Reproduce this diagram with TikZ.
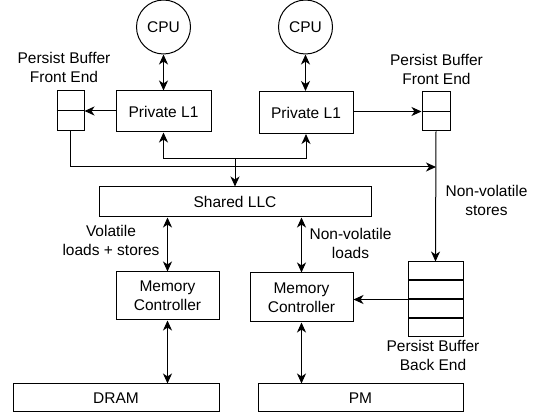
\documentclass[tikz,border=0pt]{standalone}
\usepackage{fontspec}
\setmainfont{Liberation Sans}
\usetikzlibrary{arrows.meta}
\begin{document}
\begin{tikzpicture}[x=1pt,y=-1pt,
  font=\fontsize{15.5}{19}\selectfont,
  line width=1pt,
  box/.style={draw,rectangle,inner sep=0pt,align=center},
  cpustyle/.style={draw,circle,inner sep=0pt,minimum size=54pt},
  lbl/.style={align=center,inner sep=0pt},
  arr/.style={-{Stealth[length=10pt,width=9pt,inset=3pt]}},
  darr/.style={{Stealth[length=10pt,width=9pt,inset=3pt]}-{Stealth[length=10pt,width=9pt,inset=3pt]}}]
\useasboundingbox (0,0) rectangle (539,414);
% CPUs
\node[cpustyle] (cpu1) at (163.5,27) {CPU};
\node[cpustyle] (cpu2) at (305.5,27) {CPU};
% Private L1
\node[box,minimum width=95pt,minimum height=41pt] (l1a) at (163.5,111.5) {Private L1};
\node[box,minimum width=94pt,minimum height=42pt] (l1b) at (306,112.5) {Private L1};
% Persist buffer front ends
\node[box,minimum width=27pt,minimum height=40pt] (pfl) at (70.5,111) {};
\draw (pfl.west) -- (pfl.east);
\node[box,minimum width=28pt,minimum height=39pt] (pfr) at (436,111.5) {};
\draw (pfr.west) -- (pfr.east);
\node[lbl] (pfllab) at (64,67) {Persist Buffer\\Front End};
\node[lbl] (pfrlab) at (436.5,69.5) {Persist Buffer\\Front End};
% Shared LLC
\node[box,minimum width=272pt,minimum height=30pt] (llc) at (235,202) {Shared LLC};
% Memory controllers
\node[box,minimum width=103pt,minimum height=48pt] (mc1) at (167.5,296) {Memory\\Controller};
\node[box,minimum width=103pt,minimum height=49pt] (mc2) at (301.5,297.5) {Memory\\Controller};
% DRAM, PM
\node[box,minimum width=206pt,minimum height=28pt] (dram) at (116,398) {DRAM};
\node[box,minimum width=205pt,minimum height=28pt] (pm) at (360.5,398) {PM};
% Persist buffer back end
\node[box,minimum width=55pt,minimum height=18pt] (pb1) at (435.5,271) {};
\node[box,minimum width=55pt,minimum height=18pt,anchor=north] (pb2) at (pb1.south) {};
\node[box,minimum width=55pt,minimum height=18pt,anchor=north] (pb3) at (pb2.south) {};
\node[box,minimum width=55pt,minimum height=18pt,anchor=north] (pb4) at (pb3.south) {};
\node[lbl] (pblab) at (433,355) {Persist Buffer\\Back End};
% labels
\node[lbl] (vlab) at (111,240.5) {Volatile\\loads + stores};
\node[lbl] (nvlab) at (350.5,243) {Non-volatile\\loads};
\node[lbl] (nvslab) at (486.5,200.5) {Non-volatile\\stores};
% connectors
\draw[darr] (cpu1) -- (l1a);
\draw[darr] (cpu2.south) -- (cpu2.south |- l1b.north);
\draw[arr] (l1a.west |- pfl.east) -- (pfl.east);
\draw[arr] (l1b.east |- pfr.west) -- (pfr.west);
\coordinate (busL) at (70.5,167);
\coordinate (busR) at (436,167);
\draw[arr] (pfl.south) -- (busL) -- (busR);
\draw[arr] (pfr.south) -- (pb1.north);
\coordinate (j) at (235,159);
\draw[arr] (j) -- (llc.north);
\draw[arr] (j) -| (l1a.south);
\draw[arr] (j) -| (l1b.south);
\draw[darr] (mc1.north |- llc.south) -- (mc1.north);
\draw[darr] (mc2.north |- llc.south) -- (mc2.north);
\draw[darr] (mc1.south) -- (mc1.south |- dram.north);
\draw[darr] (mc2.south) -- (mc2.south |- pm.north);
\draw[arr] (pb2.south west) -- (pb2.south west -| mc2.east);
\end{tikzpicture}
\end{document}
